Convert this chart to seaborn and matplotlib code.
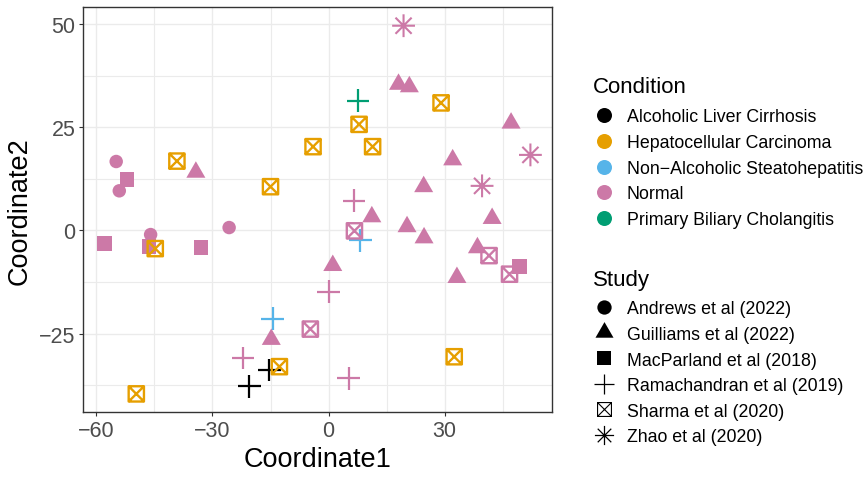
import numpy as np
import pandas as pd
import matplotlib
matplotlib.use("Agg")
import matplotlib.pyplot as plt
from matplotlib.path import Path
from matplotlib.lines import Line2D
import seaborn as sns

# ---------------- data ----------------
conditions = ["Alcoholic Liver Cirrhosis", "Hepatocellular Carcinoma",
              "Non\u2212Alcoholic Steatohepatitis", "Normal",
              "Primary Biliary Cholangitis"]
cond_colors = ["#000000", "#E69F00", "#56B4E9", "#CC79A7", "#009E73"]
studies = ["Andrews et al (2022)", "Guilliams et al (2022)", "MacParland et al (2018)",
           "Ramachandran et al (2019)", "Sharma et al (2020)", "Zhao et al (2020)"]

ALC, HCC, NASH, NRM, PBC = conditions

andrews_x = [-54.9, -54.1, -25.7, -46.0]
andrews_y = [16.7, 9.6, 0.7, -1.0]
andrews_c = [NRM, NRM, NRM, NRM]

guilliams_x = [-34.3, 18.1, 20.9, 47.2, 32.1, 24.6, 42.3, 11.2, 20.3, 24.7, 38.5, 33.2, 1.1, -14.8]
guilliams_y = [14.1, 35.4, 34.8, 26.0, 17.1, 10.6, 2.9, 3.3, 0.9, -1.8, -4.2, -11.4, -8.5, -26.4]
guilliams_c = [NRM] * 14

macparland_x = [-52.1, -57.9, -46.4, -33.0, 49.4]
macparland_y = [12.4, -3.2, -3.9, -4.1, -8.7]
macparland_c = [NRM] * 5

ramachandran_x = [7.6, -14.4, 8.2, 6.6, 0.0, -22.1, 5.2, -15.3, -20.5]
ramachandran_y = [31.4, -21.4, -2.4, 7.2, -14.8, -30.9, -35.8, -33.8, -37.8]
ramachandran_c = [PBC, NASH, NASH, NRM, NRM, NRM, NRM, ALC, ALC]

sharma_x = [-39.2, -15.0, -44.8, -12.7, -49.7, 7.9, -4.0, 11.4, 29.1, 32.5, 6.7, 41.5, 46.8, -4.7]
sharma_y = [16.8, 10.6, -4.4, -33.0, -39.6, 25.7, 20.3, 20.3, 30.9, -30.6, -0.1, -6.1, -10.6, -23.9]
sharma_c = [HCC] * 10 + [NRM] * 4

zhao_x = [19.4, 52.2, 39.7]
zhao_y = [49.6, 18.3, 10.8]
zhao_c = [NRM] * 3

x_ticks = [-60, -30, 0, 30]
y_ticks = [-25, 0, 25, 50]

frames = []
for st, xs, ys, cs in zip(studies,
                          [andrews_x, guilliams_x, macparland_x, ramachandran_x, sharma_x, zhao_x],
                          [andrews_y, guilliams_y, macparland_y, ramachandran_y, sharma_y, zhao_y],
                          [andrews_c, guilliams_c, macparland_c, ramachandran_c, sharma_c, zhao_c]):
    frames.append(pd.DataFrame({"Coordinate1": xs, "Coordinate2": ys,
                                "Condition": cs, "Study": st}))
df = pd.concat(frames, ignore_index=True)
palette = dict(zip(conditions, cond_colors))

# ---------------- markers ----------------
tri_path = Path([(0, 0.57735), (-0.5, -0.288675), (0.5, -0.288675), (0, 0.57735)],
                [Path.MOVETO, Path.LINETO, Path.LINETO, Path.CLOSEPOLY])
box_path = Path([(-0.5, -0.5), (0.5, -0.5), (0.5, 0.5), (-0.5, 0.5), (-0.5, -0.5),
                 (-0.5, -0.5), (0.5, 0.5), (-0.5, 0.5), (0.5, -0.5)],
                [Path.MOVETO, Path.LINETO, Path.LINETO, Path.LINETO, Path.CLOSEPOLY,
                 Path.MOVETO, Path.LINETO, Path.MOVETO, Path.LINETO])
d = 0.3536
ast_path = Path([(-0.5, 0), (0.5, 0), (0, -0.5), (0, 0.5),
                 (-d, -d), (d, d), (-d, d), (d, -d)],
                [Path.MOVETO, Path.LINETO] * 4)

# study -> (marker, s, line?, lw)
mstyle = {
    studies[0]: ("o", 94, False, 0),
    studies[1]: (tri_path, 250, False, 0),
    studies[2]: ("s", 112, False, 0),
    studies[3]: ("+", 270, True, 1.6),
    studies[4]: (box_path, 121, True, 1.7),
    studies[5]: (ast_path, 270, True, 1.5),
}

# ---------------- figure ----------------
plt.rcParams["font.family"] = ["Liberation Sans", "DejaVu Sans"]
W, H = 868, 481
fig = plt.figure(figsize=(W / 100, H / 100), dpi=100)
ax = fig.add_axes([83.3 / W, 1 - 413.3 / H, (551.7 - 83.3) / W, (413.3 - 8.3) / H])
ax.set_facecolor("white")
ax.set_axisbelow(True)

for st in studies:
    sub = df[df["Study"] == st]
    mk, s, is_line, lw = mstyle[st]
    n_before = len(ax.collections)
    sns.scatterplot(data=sub, x="Coordinate1", y="Coordinate2", hue="Condition",
                    hue_order=conditions, palette=palette, marker=mk, s=s,
                    linewidth=0, edgecolor="none", legend=False, ax=ax)
    coll = ax.collections[n_before]
    cols = [palette[c] for c in sub["Condition"]]
    if is_line:
        coll.set_edgecolors(cols)
        coll.set_facecolors("none")
        coll.set_linewidths(lw)
    else:
        coll.set_facecolors(cols)
        coll.set_edgecolors("none")

# limits with 5% expansion like ggplot
xr = df["Coordinate1"].max() - df["Coordinate1"].min()
yr = df["Coordinate2"].max() - df["Coordinate2"].min()
ax.set_xlim(df["Coordinate1"].min() - 0.05 * xr, df["Coordinate1"].max() + 0.05 * xr)
ax.set_ylim(df["Coordinate2"].min() - 0.05 * yr, df["Coordinate2"].max() + 0.05 * yr)

ax.set_xticks(x_ticks)
ax.set_yticks(y_ticks)
ax.set_xticks([-45, -15, 15, 45], minor=True)
ax.set_yticks([-37.5, -12.5, 12.5, 37.5], minor=True)
ax.grid(which="major", color="#EBEBEB", linewidth=1.0)
ax.grid(which="minor", color="#EBEBEB", linewidth=0.8)
ax.tick_params(which="minor", length=0)
ax.tick_params(which="major", length=3, width=0.8, color="#333333",
               labelsize=15.5, labelcolor="#4D4D4D", pad=2.5)
for sp in ax.spines.values():
    sp.set_color("#333333")
    sp.set_linewidth(1.0)
ax.set_xlabel("Coordinate1", fontsize=19.5, color="black", labelpad=4)
ax.set_ylabel("Coordinate2", fontsize=19.5, color="black", labelpad=5)

# ---------------- legends (placed in figure pixels) ----------------
def fx(px):
    return px / W


def fy(py):
    return 1 - py / H


title_x, key_x, text_x = 592.7, 604.0, 626.7
row = 25.6

fig.text(fx(title_x), fy(93.3), "Condition", fontsize=16, ha="left", va="baseline")
for k, (lab, col) in enumerate(zip(conditions, cond_colors)):
    yc = 116.3 + row * k
    fig.add_artist(Line2D([fx(key_x)], [fy(yc)], transform=fig.transFigure, marker="o",
                          linestyle="none", color=col, markersize=10.8, markeredgewidth=0))
    fig.text(fx(text_x), fy(yc + 6.1), lab, fontsize=12.8, ha="left", va="baseline")

study_keys = [
    dict(marker="o", markersize=10.3, markeredgewidth=0),
    dict(marker=tri_path, markersize=15, markeredgewidth=0),
    dict(marker="s", markersize=9.8, markeredgewidth=0),
    dict(marker="+", markersize=14.2, markeredgewidth=0.9),
    dict(marker=box_path, markersize=10, markeredgewidth=0.8, markerfacecolor="none"),
    dict(marker=ast_path, markersize=13.8, markeredgewidth=0.9, markerfacecolor="none"),
]
fig.text(fx(title_x), fy(286.0), "Study", fontsize=16, ha="left", va="baseline")
for k, (lab, kw) in enumerate(zip(studies, study_keys)):
    yc = 307.8 + row * k
    fig.add_artist(Line2D([fx(key_x)], [fy(yc)], transform=fig.transFigure,
                          linestyle="none", color="black", **kw))
    fig.text(fx(text_x), fy(yc + 6.6), lab, fontsize=12.8, ha="left", va="baseline")

fig.savefig("out.png", dpi=100, facecolor="white")
